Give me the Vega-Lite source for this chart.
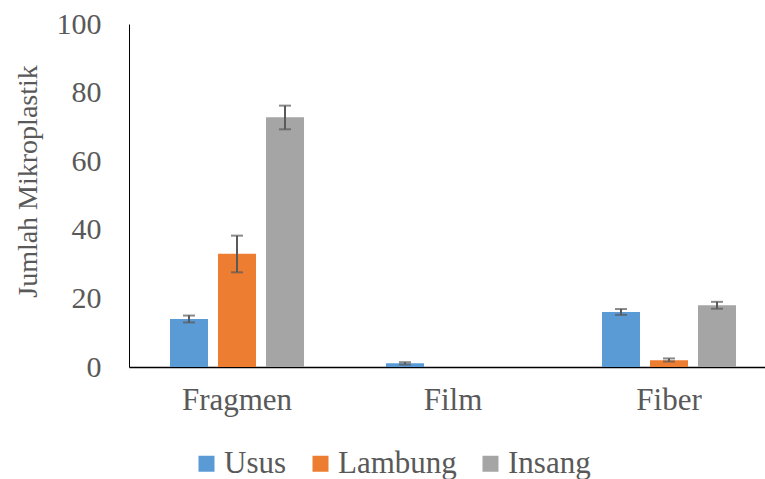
{
  "$schema": "https://vega.github.io/schema/vega-lite/v6.json",
  "autosize": {"type": "none"},
  "padding": {"left": 129, "top": 24, "right": 0, "bottom": 112},
  "width": 636,
  "height": 343,
  "background": "white",
  "data": {
    "values": [
      {"Jenis": "Fragmen", "Organ": "Usus", "Jumlah": 14, "lo": 13, "hi": 15},
      {"Jenis": "Fragmen", "Organ": "Lambung", "Jumlah": 33, "lo": 27.6, "hi": 38.3},
      {"Jenis": "Fragmen", "Organ": "Insang", "Jumlah": 72.8, "lo": 69.3, "hi": 76.2},
      {"Jenis": "Film", "Organ": "Usus", "Jumlah": 1.1, "lo": 0.7, "hi": 1.4},
      {"Jenis": "Film", "Organ": "Lambung", "Jumlah": 0, "lo": null, "hi": null},
      {"Jenis": "Film", "Organ": "Insang", "Jumlah": 0, "lo": null, "hi": null},
      {"Jenis": "Fiber", "Organ": "Usus", "Jumlah": 16, "lo": 15.2, "hi": 16.9},
      {"Jenis": "Fiber", "Organ": "Lambung", "Jumlah": 2, "lo": 1.6, "hi": 2.5},
      {"Jenis": "Fiber", "Organ": "Insang", "Jumlah": 18, "lo": 17, "hi": 19}
    ]
  },
  "encoding": {
    "x": {
      "field": "Jenis",
      "type": "nominal",
      "sort": ["Fragmen", "Film", "Fiber"],
      "scale": {"range": [0, 648], "paddingInner": 0, "paddingOuter": 0},
      "axis": {
        "title": null,
        "labelAngle": 0,
        "labelFont": "Liberation Serif",
        "labelFontSize": 31,
        "labelColor": "#595959",
        "labelPadding": 18,
        "ticks": false,
        "domainColor": "#000000",
        "domainWidth": 1.5
      }
    },
    "xOffset": {
      "field": "Organ",
      "type": "nominal",
      "sort": ["Usus", "Lambung", "Insang"],
      "scale": {"paddingInner": 0.208, "paddingOuter": 0.854}
    }
  },
  "layer": [
    {
      "mark": {"type": "bar"},
      "encoding": {
        "y": {
          "field": "Jumlah",
          "type": "quantitative",
          "scale": {"domain": [0, 100], "nice": false},
          "axis": {
            "title": "Jumlah Mikroplastik",
            "titleFont": "Liberation Serif",
            "titleFontSize": 28,
            "titleFontWeight": "normal",
            "titleColor": "#595959",
            "titlePadding": 14,
            "titleY": 157,
            "values": [0, 20, 40, 60, 80, 100],
            "labelFont": "Liberation Serif",
            "labelFontSize": 30,
            "labelColor": "#595959",
            "labelPadding": 28,
            "ticks": false,
            "grid": false,
            "domainColor": "#000000",
            "domainWidth": 1
          }
        },
        "color": {
          "field": "Organ",
          "type": "nominal",
          "sort": ["Usus", "Lambung", "Insang"],
          "scale": {
            "domain": ["Usus", "Lambung", "Insang"],
            "range": ["#5B9BD5", "#ED7D31", "#A5A5A5"]
          },
          "legend": {
            "title": null,
            "orient": "none",
            "direction": "horizontal",
            "legendX": 62,
            "legendY": 424,
            "padding": 0,
            "symbolType": "square",
            "symbolSize": 256,
            "symbolStrokeWidth": 0,
            "labelFont": "Liberation Serif",
            "labelFontSize": 31,
            "labelColor": "#595959",
            "labelOffset": 2,
            "columnPadding": 18
          }
        }
      }
    },
    {
      "mark": {"type": "rule", "color": "#595959", "strokeWidth": 2},
      "encoding": {
        "y": {"field": "lo", "type": "quantitative"},
        "y2": {"field": "hi"}
      }
    },
    {
      "mark": {"type": "tick", "color": "#595959", "size": 12, "thickness": 2},
      "encoding": {
        "y": {"field": "lo", "type": "quantitative"}
      }
    },
    {
      "mark": {"type": "tick", "color": "#595959", "size": 12, "thickness": 2},
      "encoding": {
        "y": {"field": "hi", "type": "quantitative"}
      }
    }
  ],
  "config": {
    "view": {"stroke": null}
  }
}
